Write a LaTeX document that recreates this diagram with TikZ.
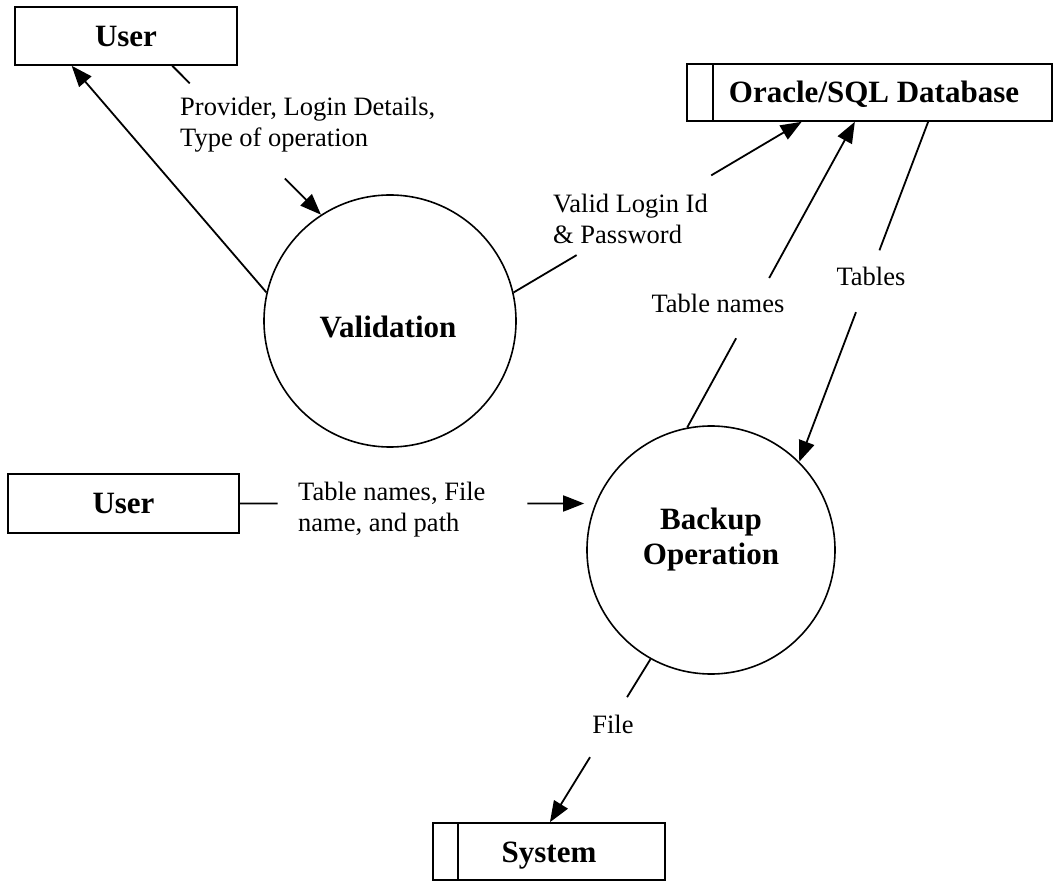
\documentclass[tikz,border=0pt]{standalone}
\usepackage{fontspec}
\setmainfont{Liberation Serif}
\usetikzlibrary{arrows.meta,calc}
\begin{document}
\begin{tikzpicture}[x=1pt,y=-1pt,
  every node/.style={inner sep=0pt},
  flow/.style={line width=1.8pt},
  arr/.style={flow,-{Triangle[length=21pt,width=16pt]}},
  ext/.style={draw,line width=1.6pt,minimum width=#1,minimum height=58pt,
    font=\bfseries\fontsize{31}{35}\selectfont,text height=21pt,text depth=0pt},
  proc/.style={draw,circle,line width=1.6pt,minimum size=#1},
  lbl/.style={font=\fontsize{26.5}{31}\selectfont,align=left},
  ttl/.style={font=\bfseries\fontsize{31}{35}\selectfont,align=center}]
\useasboundingbox (0,0) rectangle (1053,882);

% external entities and stores
\node[ext=222pt] (user1) at (126,36) {User};
\node[ext=231pt,minimum height=59pt] (user2) at (123.5,503.5) {User};
\node[ext=365pt,minimum height=57pt] (db) at (869.5,92.5) {\hspace*{9pt}Oracle/SQL Database};
\node[ext=232pt,minimum height=57pt] (sys) at (549,851.5) {System};
\draw[line width=1.6pt] ([xshift=27pt]db.north west) -- ([xshift=27pt]db.south west);
\draw[line width=1.6pt] ([xshift=26pt]sys.north west) -- ([xshift=26pt]sys.south west);

% processes
\node[proc=252pt] (val) at (390,321) {};
\node[proc=248pt] (bak) at (711,550) {};
\node[ttl,anchor=base] (valt) at ([xshift=-2pt,yshift=-17pt]val.center) {Validation};
\node[ttl] (bakt) at ([yshift=10pt]bak.center) {Backup\\Operation};

% flow labels
\node[lbl,anchor=west] (l1) at (180,124.5) {Provider, Login Details,\\Type of operation};
\node[lbl,anchor=west] (l2) at (553,218.5) {Valid Login Id\\\& Password};
\node[lbl,anchor=west] (l3) at (298,509.5) {Table names, File\\name, and path};
\node[lbl,anchor=base] (l4) at (718,313) {Table names};
\node[lbl,anchor=base] (l5) at (871,286) {Tables};
\node[lbl,anchor=base] (l6) at (613,733) {File};

% Validation -> User
\draw[arr] (val.167) -- ($(user1.south west)!0.257!(user1.south east)$);
% User -> Validation
\coordinate (p1) at ($(user1.south west)!0.707!(user1.south east)$);
\draw[flow] (p1) -- ($(p1)!0.118!(val.123)$);
\draw[arr] ($(p1)!0.757!(val.123)$) -- (val.123);
% Validation -> Database
\coordinate (p2) at ($(db.south west)!0.315!(db.south east)$);
\draw[flow] (val.13) -- ($(val.13)!0.219!(p2)$);
\draw[arr] ($(val.13)!0.686!(p2)$) -- (p2);
% Backup -> Database (Table names)
\coordinate (p3) at ($(db.south west)!0.46!(db.south east)$);
\draw[flow] (bak.101) -- ($(bak.101)!0.292!(p3)$);
\draw[arr] ($(bak.101)!0.489!(p3)$) -- (p3);
% Database -> Backup (Tables)
\coordinate (p4) at ($(db.south west)!0.66!(db.south east)$);
\draw[flow] (p4) -- ($(p4)!0.378!(bak.45)$);
\draw[arr] ($(p4)!0.56!(bak.45)$) -- (bak.45);
% User -> Backup
\coordinate (p5) at (user2.east -| bak.west);
\draw[flow] (user2.east) -- ($(user2.east)!0.109!(p5)$);
\draw[arr,shorten >=2pt] ($(user2.east)!0.83!(p5)$) -- (p5);
% Backup -> System (File)
\coordinate (p6) at ($(sys.north west)!0.504!(sys.north east)$);
\draw[flow] (bak.241) -- ($(bak.241)!0.233!(p6)$);
\draw[arr] ($(bak.241)!0.601!(p6)$) -- (p6);
\end{tikzpicture}
\end{document}
